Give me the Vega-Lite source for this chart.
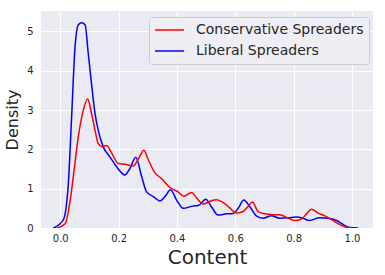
{
  "$schema": "https://vega.github.io/schema/vega-lite/v6.json",
  "width": 332,
  "height": 217,
  "autosize": {"type": "none"},
  "padding": {"left": 41, "top": 11, "right": 12, "bottom": 47},
  "background": "white",
  "config": {
    "font": "DejaVu Sans",
    "view": {"fill": "#EAEAF2", "stroke": null},
    "axis": {
      "domain": false,
      "ticks": false,
      "gridColor": "white",
      "gridWidth": 1,
      "gridOpacity": 1,
      "labelColor": "#262626",
      "titleColor": "#262626",
      "labelFontSize": 10,
      "titleFontWeight": "normal"
    }
  },
  "data": {
    "values": [
      {"x": -0.024, "y": 0, "s": "Liberal Spreaders"},
      {"x": 0.010, "y": 0.2, "s": "Liberal Spreaders"},
      {"x": 0.027, "y": 1.05, "s": "Liberal Spreaders"},
      {"x": 0.039, "y": 2.83, "s": "Liberal Spreaders"},
      {"x": 0.050, "y": 4.53, "s": "Liberal Spreaders"},
      {"x": 0.062, "y": 5.17, "s": "Liberal Spreaders"},
      {"x": 0.073, "y": 5.22, "s": "Liberal Spreaders"},
      {"x": 0.085, "y": 5.17, "s": "Liberal Spreaders"},
      {"x": 0.096, "y": 4.44, "s": "Liberal Spreaders"},
      {"x": 0.107, "y": 3.68, "s": "Liberal Spreaders"},
      {"x": 0.119, "y": 2.92, "s": "Liberal Spreaders"},
      {"x": 0.130, "y": 2.49, "s": "Liberal Spreaders"},
      {"x": 0.147, "y": 2.07, "s": "Liberal Spreaders"},
      {"x": 0.170, "y": 1.81, "s": "Liberal Spreaders"},
      {"x": 0.193, "y": 1.56, "s": "Liberal Spreaders"},
      {"x": 0.222, "y": 1.35, "s": "Liberal Spreaders"},
      {"x": 0.239, "y": 1.52, "s": "Liberal Spreaders"},
      {"x": 0.259, "y": 1.80, "s": "Liberal Spreaders"},
      {"x": 0.279, "y": 1.31, "s": "Liberal Spreaders"},
      {"x": 0.296, "y": 0.92, "s": "Liberal Spreaders"},
      {"x": 0.319, "y": 0.80, "s": "Liberal Spreaders"},
      {"x": 0.341, "y": 0.69, "s": "Liberal Spreaders"},
      {"x": 0.359, "y": 0.80, "s": "Liberal Spreaders"},
      {"x": 0.378, "y": 0.97, "s": "Liberal Spreaders"},
      {"x": 0.399, "y": 0.71, "s": "Liberal Spreaders"},
      {"x": 0.421, "y": 0.50, "s": "Liberal Spreaders"},
      {"x": 0.456, "y": 0.56, "s": "Liberal Spreaders"},
      {"x": 0.473, "y": 0.57, "s": "Liberal Spreaders"},
      {"x": 0.499, "y": 0.73, "s": "Liberal Spreaders"},
      {"x": 0.518, "y": 0.54, "s": "Liberal Spreaders"},
      {"x": 0.541, "y": 0.33, "s": "Liberal Spreaders"},
      {"x": 0.570, "y": 0.36, "s": "Liberal Spreaders"},
      {"x": 0.592, "y": 0.37, "s": "Liberal Spreaders"},
      {"x": 0.610, "y": 0.50, "s": "Liberal Spreaders"},
      {"x": 0.629, "y": 0.71, "s": "Liberal Spreaders"},
      {"x": 0.650, "y": 0.54, "s": "Liberal Spreaders"},
      {"x": 0.672, "y": 0.31, "s": "Liberal Spreaders"},
      {"x": 0.695, "y": 0.25, "s": "Liberal Spreaders"},
      {"x": 0.724, "y": 0.31, "s": "Liberal Spreaders"},
      {"x": 0.752, "y": 0.25, "s": "Liberal Spreaders"},
      {"x": 0.781, "y": 0.26, "s": "Liberal Spreaders"},
      {"x": 0.810, "y": 0.28, "s": "Liberal Spreaders"},
      {"x": 0.832, "y": 0.25, "s": "Liberal Spreaders"},
      {"x": 0.853, "y": 0.19, "s": "Liberal Spreaders"},
      {"x": 0.889, "y": 0.26, "s": "Liberal Spreaders"},
      {"x": 0.924, "y": 0.24, "s": "Liberal Spreaders"},
      {"x": 0.947, "y": 0.19, "s": "Liberal Spreaders"},
      {"x": 0.969, "y": 0.09, "s": "Liberal Spreaders"},
      {"x": 0.992, "y": 0.01, "s": "Liberal Spreaders"},
      {"x": 1.021, "y": 0, "s": "Liberal Spreaders"},
      {"x": -0.012, "y": 0, "s": "Conservative Spreaders"},
      {"x": 0.016, "y": 0.1, "s": "Conservative Spreaders"},
      {"x": 0.033, "y": 0.65, "s": "Conservative Spreaders"},
      {"x": 0.045, "y": 1.32, "s": "Conservative Spreaders"},
      {"x": 0.062, "y": 2.33, "s": "Conservative Spreaders"},
      {"x": 0.079, "y": 3.0, "s": "Conservative Spreaders"},
      {"x": 0.094, "y": 3.28, "s": "Conservative Spreaders"},
      {"x": 0.107, "y": 2.92, "s": "Conservative Spreaders"},
      {"x": 0.119, "y": 2.49, "s": "Conservative Spreaders"},
      {"x": 0.130, "y": 2.15, "s": "Conservative Spreaders"},
      {"x": 0.142, "y": 2.07, "s": "Conservative Spreaders"},
      {"x": 0.159, "y": 2.10, "s": "Conservative Spreaders"},
      {"x": 0.176, "y": 1.91, "s": "Conservative Spreaders"},
      {"x": 0.199, "y": 1.64, "s": "Conservative Spreaders"},
      {"x": 0.222, "y": 1.62, "s": "Conservative Spreaders"},
      {"x": 0.250, "y": 1.58, "s": "Conservative Spreaders"},
      {"x": 0.267, "y": 1.75, "s": "Conservative Spreaders"},
      {"x": 0.287, "y": 1.98, "s": "Conservative Spreaders"},
      {"x": 0.301, "y": 1.75, "s": "Conservative Spreaders"},
      {"x": 0.324, "y": 1.41, "s": "Conservative Spreaders"},
      {"x": 0.347, "y": 1.26, "s": "Conservative Spreaders"},
      {"x": 0.376, "y": 1.03, "s": "Conservative Spreaders"},
      {"x": 0.404, "y": 0.92, "s": "Conservative Spreaders"},
      {"x": 0.424, "y": 0.81, "s": "Conservative Spreaders"},
      {"x": 0.450, "y": 0.90, "s": "Conservative Spreaders"},
      {"x": 0.467, "y": 0.77, "s": "Conservative Spreaders"},
      {"x": 0.490, "y": 0.61, "s": "Conservative Spreaders"},
      {"x": 0.513, "y": 0.68, "s": "Conservative Spreaders"},
      {"x": 0.536, "y": 0.72, "s": "Conservative Spreaders"},
      {"x": 0.558, "y": 0.65, "s": "Conservative Spreaders"},
      {"x": 0.581, "y": 0.51, "s": "Conservative Spreaders"},
      {"x": 0.604, "y": 0.38, "s": "Conservative Spreaders"},
      {"x": 0.627, "y": 0.42, "s": "Conservative Spreaders"},
      {"x": 0.644, "y": 0.55, "s": "Conservative Spreaders"},
      {"x": 0.659, "y": 0.66, "s": "Conservative Spreaders"},
      {"x": 0.678, "y": 0.42, "s": "Conservative Spreaders"},
      {"x": 0.701, "y": 0.36, "s": "Conservative Spreaders"},
      {"x": 0.729, "y": 0.34, "s": "Conservative Spreaders"},
      {"x": 0.752, "y": 0.34, "s": "Conservative Spreaders"},
      {"x": 0.781, "y": 0.25, "s": "Conservative Spreaders"},
      {"x": 0.804, "y": 0.19, "s": "Conservative Spreaders"},
      {"x": 0.827, "y": 0.23, "s": "Conservative Spreaders"},
      {"x": 0.844, "y": 0.36, "s": "Conservative Spreaders"},
      {"x": 0.861, "y": 0.48, "s": "Conservative Spreaders"},
      {"x": 0.884, "y": 0.38, "s": "Conservative Spreaders"},
      {"x": 0.907, "y": 0.31, "s": "Conservative Spreaders"},
      {"x": 0.929, "y": 0.22, "s": "Conservative Spreaders"},
      {"x": 0.952, "y": 0.11, "s": "Conservative Spreaders"},
      {"x": 0.975, "y": 0.03, "s": "Conservative Spreaders"},
      {"x": 0.998, "y": 0, "s": "Conservative Spreaders"}
    ]
  },
  "mark": {"type": "line", "interpolate": "monotone", "strokeWidth": 1.5, "clip": true},
  "encoding": {
    "x": {
      "field": "x", "type": "quantitative",
      "scale": {"domain": [-0.066, 1.072], "nice": false, "zero": false},
      "axis": {"values": [0, 0.2, 0.4, 0.6, 0.8, 1.0], "format": ".1f", "title": "Content", "titleFontSize": 20, "labelPadding": 5, "titlePadding": 4}
    },
    "y": {
      "field": "y", "type": "quantitative",
      "scale": {"domain": [0, 5.52], "nice": false},
      "axis": {"values": [0, 1, 2, 3, 4, 5], "format": "d", "title": "Density", "titleFontSize": 16, "labelPadding": 8, "titlePadding": 6}
    },
    "color": {
      "field": "s", "type": "nominal",
      "scale": {"domain": ["Conservative Spreaders", "Liberal Spreaders"], "range": ["#ff0000", "#0000ff"]},
      "legend": {
        "title": null,
        "orient": "none",
        "legendX": 108,
        "legendY": 6,
        "symbolType": "stroke",
        "symbolSize": 840,
        "symbolStrokeWidth": 1.5,
        "clipHeight": 16,
        "labelFontSize": 14,
        "labelLimit": 0,
        "labelColor": "#262626",
        "fillColor": "#EEEEF4",
        "strokeColor": "#cccccc",
        "cornerRadius": 3,
        "padding": 5,
        "rowPadding": 5,
        "labelOffset": 11
      }
    }
  }
}
